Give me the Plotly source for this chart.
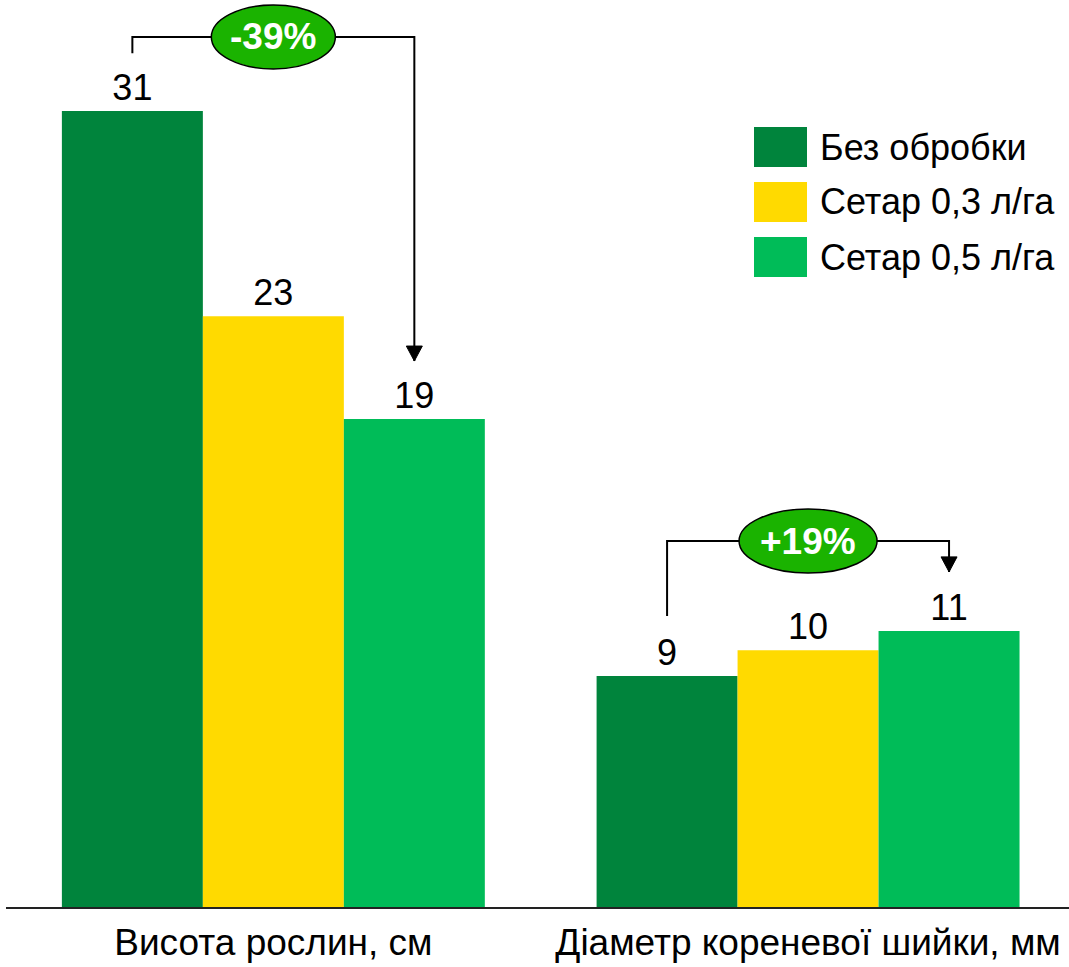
import plotly.graph_objects as go

categories = ["Висота рослин, см", "Діаметр кореневої шийки, мм"]
series_names = ["Без обробки", "Сетар 0,3 л/га", "Сетар 0,5 л/га"]
values_control = [31, 9]
values_setar03 = [23, 10]
values_setar05 = [19, 10.75]
series_colors = ["#00843C", "#FFDA00", "#00BC58"]
change_labels = ["-39%", "+19%"]

series_values = [values_control, values_setar03, values_setar05]

FONT = "Liberation Sans, Arial, sans-serif"
BARGAP = 0.209
n_series = len(series_names)
bar_w = (1 - BARGAP) / n_series
offsets = [(i - (n_series - 1) / 2) * bar_w for i in range(n_series)]

fig = go.Figure()
for name, vals, col in zip(series_names, series_values, series_colors):
    fig.add_trace(go.Bar(
        x=categories, y=vals, name=name, marker_color=col, marker_line_width=0,
        texttemplate="%{y:.0f}", textposition="outside",
        textfont=dict(size=36, color="black", family=FONT),
        cliponaxis=False, showlegend=False, hoverinfo="skip",
    ))

Y_MAX = 35.32
shapes = []
annotations = []

# brackets: from first bar to last bar in each group
bracket_specs = [
    # (category index, left bottom y, top y, arrow tip y)
    (0, values_control[0] + 2.25, values_control[0] + 2.88, values_setar05[0] + 2.26),
    (1, values_control[1] + 2.33, values_setar05[1] + 3.5, values_setar05[1] + 2.3),
]
for (ci, yb, yt, ytip), lab in zip(bracket_specs, change_labels):
    xl = ci + offsets[0]
    xr = ci + offsets[-1]
    line = dict(color="black", width=2)
    shapes.append(dict(type="path", xref="x", yref="y",
                       path=f"M {xl},{yb} L {xl},{yt} L {xr},{yt} L {xr},{ytip}",
                       line=line, layer="above"))
    shapes.append(dict(type="path", xref="x", yref="y", xsizemode="pixel", ysizemode="pixel",
                       xanchor=xr, yanchor=ytip,
                       path="M -8,15 L 8,15 L 0,0 Z", fillcolor="black",
                       line=dict(color="black", width=1), layer="above"))
    xc = ci
    w = 62 if ci == 0 else 69
    shapes.append(dict(type="circle", xref="x", yref="y", xsizemode="pixel", ysizemode="pixel",
                       xanchor=xc, yanchor=yt, x0=-w, x1=w, y0=-32, y1=32,
                       fillcolor="#1AB300", line=dict(color="black", width=1.5), layer="above"))
    annotations.append(dict(x=xc, y=yt, xref="x", yref="y", text=f"<b>{lab}</b>",
                            showarrow=False, font=dict(size=37, color="white", family=FONT)))

# legend drawn manually with large square swatches
PL, PW, PH = 6, 1063, 907
def px(xp):
    return (xp - PL) / PW
def py(yp):
    return (PH - yp) / PH
for i, (name, col) in enumerate(zip(series_names, series_colors)):
    top = 127 + 55 * i
    shapes.append(dict(type="rect", xref="paper", yref="paper",
                       x0=px(754), x1=px(807), y0=py(top + 40), y1=py(top),
                       fillcolor=col, line=dict(width=0)))
    annotations.append(dict(x=px(818), y=py(top + 20), xref="paper", yref="paper",
                            text=name, showarrow=False, xanchor="left", yanchor="middle",
                            font=dict(size=36, color="black", family=FONT)))

fig.update_layout(
    width=1069, height=967,
    margin=dict(l=PL, r=0, t=0, b=967 - PH),
    barmode="group", bargap=BARGAP, bargroupgap=0,
    plot_bgcolor="white", paper_bgcolor="white",
    font=dict(family=FONT, color="black"),
    shapes=shapes, annotations=annotations,
    showlegend=False,
)
fig.update_xaxes(range=[-0.5, 1.488], showline=True, linecolor="#222", linewidth=2,
                 ticks="", showgrid=False, ticklabelstandoff=2,
                 tickfont=dict(size=37, family=FONT, color="black"))
fig.update_yaxes(range=[0, Y_MAX], visible=False, showgrid=False, zeroline=False)

fig.write_html("out.html", post_script="document.body.style.margin='0';",
               config={"displayModeBar": False})
